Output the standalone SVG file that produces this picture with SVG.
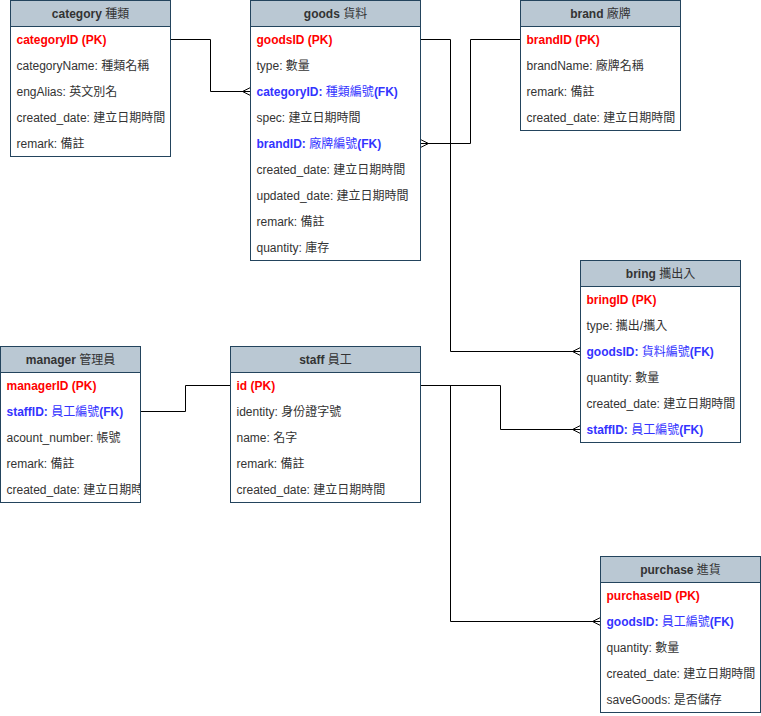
<svg xmlns="http://www.w3.org/2000/svg" width="761" height="716" viewBox="0 0 761 716">
<style>
text{font-family:"Liberation Sans","Noto Sans CJK TC",sans-serif;font-size:12px;fill:#333333}
.box{fill:#ffffff;stroke:#23445D;stroke-width:1}
.hdr{fill:#BAC8D3;stroke:#23445D;stroke-width:1}
.title{font-weight:bold;text-anchor:middle}
.pk{fill:#FF0000;font-weight:bold}
.fk{fill:#3333FF;font-weight:bold}
.cj{font-weight:normal}
.conn{fill:none;stroke:#000000;stroke-width:1}
</style>
<defs>
<marker id="many" viewBox="0 0 10 10" refX="10" refY="5" markerWidth="10" markerHeight="10" markerUnits="userSpaceOnUse" orient="auto">
<path d="M10,1 L2,5 L10,9" fill="none" stroke="#000000" stroke-width="1"/>
</marker>
<clipPath id="mgrclip"><rect x="1" y="373" width="139" height="129"/></clipPath>
</defs>
<rect width="761" height="716" fill="#ffffff"/>

<g id="connectors">
<path class="conn" d="M170.5,39.5 H210.5 V91.5 H250.5" marker-end="url(#many)"/>
<path class="conn" d="M520.5,39.5 H470.5 V143.5 H420.5" marker-end="url(#many)"/>
<path class="conn" d="M420.5,39.5 H450.5 V351.5 H580.5" marker-end="url(#many)"/>
<path class="conn" d="M420.5,385.5 H500.5 V429.5 H580.5" marker-end="url(#many)"/>
<path class="conn" d="M420.5,385.5 H450.5 V621.5 H600.5" marker-end="url(#many)"/>
<path class="conn" d="M140.5,411.5 H185.5 V385.5 H230.5"/>
</g>

<g id="category">
<rect class="box" x="10.5" y="0.5" width="160" height="156"/>
<rect class="hdr" x="10.5" y="0.5" width="160" height="26"/>
<text class="title" x="90.5" y="18">category <tspan class="cj">種類</tspan></text>
<text class="pk" x="16.5" y="44">categoryID (PK)</text>
<text x="16.5" y="70">categoryName: 種類名稱</text>
<text x="16.5" y="96">engAlias: 英文別名</text>
<text x="16.5" y="122">created_date: 建立日期時間</text>
<text x="16.5" y="148">remark: 備註</text>
</g>

<g id="goods">
<rect class="box" x="250.5" y="0.5" width="170" height="260"/>
<rect class="hdr" x="250.5" y="0.5" width="170" height="26"/>
<text class="title" x="335.5" y="18">goods <tspan class="cj">貨料</tspan></text>
<text class="pk" x="256.5" y="44">goodsID (PK)</text>
<text x="256.5" y="70">type: 數量</text>
<text class="fk" x="256.5" y="96">categoryID: <tspan class="cj">種類編號</tspan>(FK)</text>
<text x="256.5" y="122">spec: 建立日期時間</text>
<text class="fk" x="256.5" y="148">brandID: <tspan class="cj">廠牌編號</tspan>(FK)</text>
<text x="256.5" y="174">created_date: 建立日期時間</text>
<text x="256.5" y="200">updated_date: 建立日期時間</text>
<text x="256.5" y="226">remark: 備註</text>
<text x="256.5" y="252">quantity: 庫存</text>
</g>

<g id="brand">
<rect class="box" x="520.5" y="0.5" width="160" height="130"/>
<rect class="hdr" x="520.5" y="0.5" width="160" height="26"/>
<text class="title" x="600.5" y="18">brand <tspan class="cj">廠牌</tspan></text>
<text class="pk" x="526.5" y="44">brandID (PK)</text>
<text x="526.5" y="70">brandName: 廠牌名稱</text>
<text x="526.5" y="96">remark: 備註</text>
<text x="526.5" y="122">created_date: 建立日期時間</text>
</g>

<g id="bring">
<rect class="box" x="580.5" y="260.5" width="160" height="182"/>
<rect class="hdr" x="580.5" y="260.5" width="160" height="26"/>
<text class="title" x="660.5" y="278">bring <tspan class="cj">攜出入</tspan></text>
<text class="pk" x="586.5" y="304">bringID (PK)</text>
<text x="586.5" y="330">type: 攜出/攜入</text>
<text class="fk" x="586.5" y="356">goodsID: <tspan class="cj">貨料編號</tspan>(FK)</text>
<text x="586.5" y="382">quantity: 數量</text>
<text x="586.5" y="408">created_date: 建立日期時間</text>
<text class="fk" x="586.5" y="434">staffID: <tspan class="cj">員工編號</tspan>(FK)</text>
</g>

<g id="manager">
<rect class="box" x="0.5" y="346.5" width="140" height="156"/>
<rect class="hdr" x="0.5" y="346.5" width="140" height="26"/>
<text class="title" x="70.5" y="364">manager <tspan class="cj">管理員</tspan></text>
<g clip-path="url(#mgrclip)">
<text class="pk" x="6.5" y="390">managerID (PK)</text>
<text class="fk" x="6.5" y="416">staffID: <tspan class="cj">員工編號</tspan>(FK)</text>
<text x="6.5" y="442">acount_number: 帳號</text>
<text x="6.5" y="468">remark: 備註</text>
<text x="6.5" y="494">created_date: 建立日期時間</text>
</g>
</g>

<g id="staff">
<rect class="box" x="230.5" y="346.5" width="190" height="156"/>
<rect class="hdr" x="230.5" y="346.5" width="190" height="26"/>
<text class="title" x="325.5" y="364">staff <tspan class="cj">員工</tspan></text>
<text class="pk" x="236.5" y="390">id (PK)</text>
<text x="236.5" y="416">identity: 身份證字號</text>
<text x="236.5" y="442">name: 名字</text>
<text x="236.5" y="468">remark: 備註</text>
<text x="236.5" y="494">created_date: 建立日期時間</text>
</g>

<g id="purchase">
<rect class="box" x="600.5" y="556.5" width="160" height="156"/>
<rect class="hdr" x="600.5" y="556.5" width="160" height="26"/>
<text class="title" x="680.5" y="574">purchase <tspan class="cj">進貨</tspan></text>
<text class="pk" x="606.5" y="600">purchaseID (PK)</text>
<text class="fk" x="606.5" y="626">goodsID: <tspan class="cj">員工編號</tspan>(FK)</text>
<text x="606.5" y="652">quantity: 數量</text>
<text x="606.5" y="678">created_date: 建立日期時間</text>
<text x="606.5" y="704">saveGoods: 是否儲存</text>
</g>
</svg>
